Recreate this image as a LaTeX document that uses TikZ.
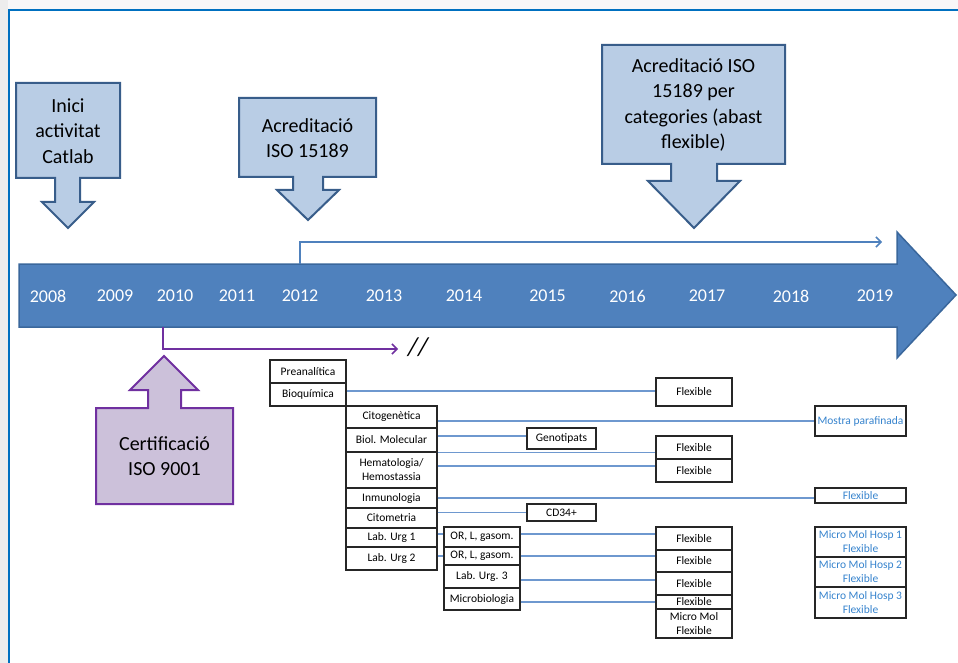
\documentclass[tikz,border=0pt]{standalone}
\usepackage{fontspec}
\setmainfont{Carlito}
\usetikzlibrary{arrows.meta}
\definecolor{tlfill}{HTML}{4F81BD}
\definecolor{tldraw}{HTML}{3A679C}
\definecolor{cofill}{HTML}{B9CDE5}
\definecolor{codraw}{HTML}{385D8A}
\definecolor{pufill}{HTML}{CCC1DA}
\definecolor{pudraw}{HTML}{7030A0}
\definecolor{frameblue}{HTML}{0070C0}
\definecolor{conncol}{HTML}{6E98CF}
\definecolor{bluetext}{HTML}{3784CE}
\definecolor{stripgray}{HTML}{EDEDED}
\definecolor{topgray}{HTML}{F8F7F8}
\begin{document}
\begin{tikzpicture}[x=1pt,y=-1pt,
  callout/.style={fill=cofill,draw=codraw,line width=2pt,line join=miter},
  pcallout/.style={fill=pufill,draw=pudraw,line width=2pt,line join=miter},
  bigtext/.style={align=center,font=\fontsize{20}{25.5}\selectfont,inner sep=0pt},
  yearlbl/.style={text=white,font=\fontsize{18}{20}\selectfont,inner sep=0pt},
  sbox/.style={draw=black!85,line width=1.2pt,fill=white,inner sep=0pt,align=center,font=\fontsize{11.5}{14}\selectfont},
  sb/.style 2 args={sbox,minimum width=#1,minimum height=#2},
  bt/.style={text=bluetext},
  conn/.style={draw=conncol,line width=1.5pt}
]
\useasboundingbox (0,0) rectangle (958,663);
\fill[white] (0,0) rectangle (958,663);
\fill[stripgray] (0,0) rectangle (8,663);
\fill[topgray] (8,0) rectangle (958,9);
\draw[frameblue,line width=2pt] (9,663) -- (9,10) -- (958,10);

% timeline arrow
\draw[fill=tlfill,draw=tldraw,line width=1.5pt,line join=miter]
  (19,264) -- (897,264) -- (897,232) -- (956,295) -- (897,358) -- (897,327) -- (19,327) -- cycle;
\foreach \yr/\xx in {2008/48,2009/115,2010/175,2011/237,2012/300,2013/384,2014/464,2015/547.5,2016/627.5,2017/707,2018/791,2019/875}
  \node[yearlbl] (y\yr) at (\xx,296) {\yr};

% callouts
\draw[callout] (16,83) -- (120,83) -- (120,178) -- (80,178) -- (80,202) -- (94,202) -- (68,228) -- (42,202) -- (55,202) -- (55,178) -- (16,178) -- cycle;
\node[bigtext] (c1) at (68,131) {Inici\\activitat\\Catlab};

\draw[callout] (239,98) -- (376,98) -- (376,177) -- (323,177) -- (323,190) -- (339,190) -- (308,220) -- (277,190) -- (293,190) -- (293,177) -- (239,177) -- cycle;
\node[bigtext] (c2) at (307.5,138) {Acreditació\\ISO 15189};

\draw[callout] (602,45) -- (785,45) -- (785,164) -- (717,164) -- (717,181) -- (740,181) -- (694,228) -- (648,181) -- (671,181) -- (671,164) -- (602,164) -- cycle;
\node[bigtext] (c3) at (693.5,105) {Acreditació ISO\\15189 per\\categories (abast\\flexible)};

\draw[pcallout] (96,408) -- (148,408) -- (148,390) -- (130,390) -- (164,356) -- (198,390) -- (181,390) -- (181,408) -- (233,408) -- (233,504) -- (96,504) -- cycle;
\node[bigtext] (c4) at (164.5,456) {Certificació\\ISO 9001};

% lines from timeline
\coordinate (bstart) at (300,264);
\coordinate (bend) at (882,242);
\draw[tlfill,line width=1.5pt,-{Straight Barb[length=5pt,width=10pt]}] (bstart) |- (bend);
\coordinate (pstart) at (163,327);
\coordinate (pend) at (398,349);
\draw[pudraw,line width=1.5pt,-{Straight Barb[length=5pt,width=10pt]}] (pstart) |- (pend);
\node[inner sep=0pt,font=\fontsize{26}{28}\itshape] (brk) at (418,347) {//};

% column 1
\node[sb={76}{23}] (pre) at (308,371.5) {Preanalítica};
\node[sb={76}{23}] (bio) at (308,394.5) {Bioquímica};
% column 2
\node[sb={91}{22}] (cito) at (391.5,417) {Citogenètica};
\node[sb={91}{24}] (biol) at (391.5,440) {Biol. Molecular};
\node[sb={91}{36}] (hema) at (391.5,470) {Hematologia/\\Hemostassia};
\node[sb={91}{20}] (inmu) at (391.5,498) {Inmunologia};
\node[sb={91}{20}] (citom) at (391.5,518) {Citometria};
\node[sb={91}{19}] (urg1) at (391.5,537.5) {Lab. Urg 1};
\node[sb={91}{23}] (urg2) at (391.5,558.5) {Lab. Urg 2};
% column 3
\node[sb={76}{20}] (or1) at (482,537) {OR, L, gasom.};
\node[sb={76}{18}] (or2) at (482,556) {OR, L, gasom.};
\node[sb={76}{23}] (urg3) at (482,576.5) {Lab. Urg. 3};
\node[sb={76}{22}] (micro) at (482,599) {Microbiologia};
% middle small
\node[sb={69}{21}] (geno) at (561.5,438.5) {Genotipats};
\node[sb={69}{17}] (cd34) at (561.5,512.5) {CD34+};
% flexible column
\node[sb={76}{28}] (f1) at (694,392) {Flexible};
\node[sb={76}{23}] (f2) at (694,447.5) {Flexible};
\node[sb={76}{23}] (f3) at (694,470.5) {Flexible};
\node[sb={76}{23}] (f4) at (694,538.5) {Flexible};
\node[sb={76}{22}] (f5) at (694,561) {Flexible};
\node[sb={76}{23}] (f6) at (694,583.5) {Flexible};
\node[sb={76}{14}] (f7) at (694,602) {Flexible};
\node[sb={76}{29}] (f8) at (694,623.5) {Micro Mol\\Flexible};
% right column
\node[sb={91}{30},bt] (mostra) at (860.5,421) {Mostra parafinada};
\node[sb={91}{15},bt] (rflex) at (860.5,495.5) {Flexible};
\node[sb={91}{30},bt] (h1) at (860.5,542) {Micro Mol Hosp 1\\Flexible};
\node[sb={91}{30},bt] (h2) at (860.5,572) {Micro Mol Hosp 2\\Flexible};
\node[sb={91}{31},bt] (h3) at (860.5,602.5) {Micro Mol Hosp 3\\Flexible};

% connectors
\draw[conn] ([yshift=1]f1.west -| bio.east) -- ([yshift=1]f1.west);
\draw[conn] (mostra.west -| cito.east) -- (mostra.west);
\draw[conn] ([yshift=2.5]geno.west -| biol.east) -- ([yshift=2.5]geno.west);
\draw[conn] (biol.south east) -- (biol.south east -| f2.west);
\draw[conn] ([yshift=4]hema.east) -- ([yshift=4]hema.east -| f3.west);
\draw[conn] (inmu.east) -- (inmu.east -| rflex.west);
\draw[conn] (cd34.west -| citom.east) -- (cd34.west);
\draw[conn] ([yshift=3]or1.west -| urg1.east) -- ([yshift=3]or1.west);
\draw[conn] (or2.west -| urg2.east) -- (or2.west);
\draw[conn] ([yshift=3]or1.east) -- ([yshift=3]or1.east -| f4.west);
\draw[conn] (or2.east) -- (or2.east -| f5.west);
\draw[conn] ([yshift=-3.5]urg3.east) -- ([yshift=-3.5]urg3.east -| f6.west);
\draw[conn] (f7.west -| micro.east) -- (f7.west);
\end{tikzpicture}
\end{document}
